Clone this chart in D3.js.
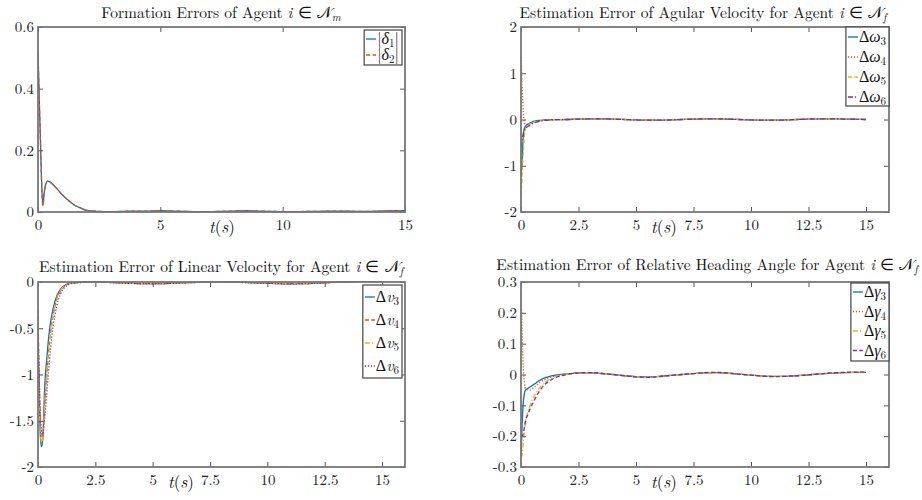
<!DOCTYPE html>
<html>
<head>
<meta charset="utf-8">
<script src="https://cdn.jsdelivr.net/npm/d3@7"></script>
<style>
  html, body { margin: 0; padding: 0; background: #fff; }
</style>
</head>
<body>
<svg id="chart" width="922" height="500"></svg>
<script>
// ---------------- DATA ----------------
const tA = [0,0.05,0.1,0.15,0.2,0.25,0.3,0.4,0.5,0.6,0.75,1,1.25,1.5,1.75,2,2.5,3,3.5,4,4.5,5,5.5,6,6.5,7,7.5,8,8.5,9,9.5,10,10.5,11,11.5,12,12.5,13,13.5,14,14.5,15];
const delta1 = [0.52,0.37,0.23,0.09,0.02,0.06,0.085,0.1,0.097,0.09,0.078,0.055,0.037,0.022,0.013,0.005,0.002,0.001,0.002,0.003,0.003,0.004,0.003,0.002,0.001,0.001,0.002,0.003,0.004,0.003,0.002,0.001,0.001,0.002,0.002,0.003,0.003,0.002,0.002,0.003,0.004,0.004];
const delta2 = [0.52,0.37,0.23,0.09,0.021,0.06,0.085,0.1,0.097,0.09,0.078,0.055,0.037,0.022,0.013,0.005,0.002,0.001,0.002,0.003,0.003,0.004,0.003,0.002,0.001,0.001,0.002,0.003,0.004,0.003,0.002,0.001,0.001,0.002,0.002,0.003,0.003,0.002,0.002,0.003,0.004,0.004];

const tB = [0,0.05,0.1,0.15,0.2,0.3,0.4,0.5,0.6,0.75,1,1.25,1.5,2,2.5,3,3.5,4,4.5,5,5.5,6,6.5,7,7.5,8,8.5,9,9.5,10,10.5,11,11.5,12,12.5,13,13.5,14,14.5,15];

const omega3 = [-1.25,-0.9,-0.35,-0.18,-0.14,-0.1,-0.07,-0.05,-0.035,-0.02,-0.01,-0.005,-0.002,0,0.01,0.015,0.015,0.01,0,-0.01,-0.015,-0.015,-0.01,0,0.01,0.015,0.015,0.01,0,-0.01,-0.015,-0.015,-0.01,0,0.01,0.015,0.015,0.01,0.005,0];
const omega4 = [1.35,0.7,0.15,-0.08,-0.12,-0.12,-0.1,-0.08,-0.06,-0.04,-0.02,-0.01,-0.004,0,0.01,0.015,0.015,0.01,0,-0.01,-0.015,-0.015,-0.01,0,0.01,0.015,0.015,0.01,0,-0.01,-0.015,-0.015,-0.01,0,0.01,0.015,0.015,0.01,0.005,0];
const omega5 = [-1.65,-1.2,-0.7,-0.35,-0.2,-0.14,-0.1,-0.07,-0.05,-0.03,-0.015,-0.007,-0.003,0,0.01,0.015,0.015,0.01,0,-0.01,-0.015,-0.015,-0.01,0,0.01,0.015,0.015,0.01,0,-0.01,-0.015,-0.015,-0.01,0,0.01,0.015,0.015,0.01,0.005,0];
const omega6 = [-0.6,-0.45,-0.3,-0.22,-0.18,-0.15,-0.12,-0.09,-0.07,-0.045,-0.02,-0.01,-0.004,0,0.01,0.015,0.015,0.01,0,-0.01,-0.015,-0.015,-0.01,0,0.01,0.015,0.015,0.01,0,-0.01,-0.015,-0.015,-0.01,0,0.01,0.015,0.015,0.01,0.005,0];

const v3 = [-0.55,-1.2,-1.65,-1.78,-1.72,-1.1,-0.78,-0.52,-0.36,-0.2,-0.07,-0.025,-0.008,-0.002,0,-0.003,-0.008,-0.013,-0.017,-0.018,-0.016,-0.012,-0.007,-0.003,0,0,-0.002,-0.005,-0.009,-0.013,-0.017,-0.019,-0.018,-0.014,-0.008,-0.002,0.003,0.006,0.008,0.008];
const v4 = [-0.3,-1.0,-1.5,-1.72,-1.7,-1.3,-0.95,-0.65,-0.45,-0.25,-0.09,-0.03,-0.01,-0.003,0,-0.003,-0.008,-0.013,-0.017,-0.018,-0.016,-0.012,-0.007,-0.003,0,0,-0.002,-0.005,-0.009,-0.013,-0.017,-0.019,-0.018,-0.014,-0.008,-0.002,0.003,0.006,0.008,0.008];
const v5 = [-0.9,-1.3,-1.6,-1.75,-1.7,-1.28,-0.92,-0.62,-0.43,-0.24,-0.08,-0.028,-0.009,-0.003,0,-0.003,-0.008,-0.013,-0.017,-0.018,-0.016,-0.012,-0.007,-0.003,0,0,-0.002,-0.005,-0.009,-0.013,-0.017,-0.019,-0.018,-0.014,-0.008,-0.002,0.003,0.006,0.008,0.008];
const v6 = [-0.5,-1.0,-1.4,-1.6,-1.65,-1.45,-1.15,-0.85,-0.6,-0.34,-0.12,-0.04,-0.013,-0.004,-0.001,-0.004,-0.009,-0.014,-0.018,-0.019,-0.017,-0.013,-0.008,-0.004,-0.001,0,-0.002,-0.006,-0.01,-0.014,-0.018,-0.02,-0.019,-0.015,-0.009,-0.003,0.002,0.005,0.007,0.008];

const gamma3 = [-0.27,-0.16,-0.09,-0.06,-0.05,-0.045,-0.04,-0.035,-0.03,-0.022,-0.012,-0.006,-0.002,0.002,0.005,0.005,0.003,0,-0.004,-0.007,-0.008,-0.006,-0.003,0,0.003,0.005,0.006,0.004,0.001,-0.002,-0.005,-0.006,-0.006,-0.004,-0.001,0.002,0.004,0.006,0.007,0.007];
const gamma4 = [0.27,0.13,0.02,-0.03,-0.045,-0.05,-0.05,-0.045,-0.04,-0.03,-0.018,-0.009,-0.004,0.002,0.005,0.005,0.003,0,-0.004,-0.007,-0.008,-0.006,-0.003,0,0.003,0.005,0.006,0.004,0.001,-0.002,-0.005,-0.006,-0.006,-0.004,-0.001,0.002,0.004,0.006,0.007,0.007];
const gamma5 = [-0.27,-0.26,-0.22,-0.18,-0.15,-0.12,-0.1,-0.08,-0.065,-0.048,-0.028,-0.015,-0.007,0.001,0.005,0.005,0.003,0,-0.004,-0.007,-0.008,-0.006,-0.003,0,0.003,0.005,0.006,0.004,0.001,-0.002,-0.005,-0.006,-0.006,-0.004,-0.001,0.002,0.004,0.006,0.007,0.007];
const gamma6 = [-0.2,-0.2,-0.19,-0.17,-0.15,-0.13,-0.11,-0.095,-0.08,-0.06,-0.035,-0.02,-0.01,0,0.005,0.006,0.004,0,-0.004,-0.008,-0.009,-0.007,-0.003,0,0.003,0.006,0.007,0.005,0.001,-0.002,-0.005,-0.007,-0.006,-0.004,-0.001,0.002,0.005,0.007,0.008,0.008];

const ticksX15 = [0,5,10,15];
const ticksX16 = [0,2.5,5,7.5,10,12.5,15];
const ticksY1 = [0,0.2,0.4,0.6];
const ticksY2 = [-2,-1,0,1,2];
const ticksY3 = [-2,-1.5,-1,-0.5,0];
const ticksY4 = [-0.3,-0.2,-0.1,0,0.1,0.2,0.3];

// ---------------- STYLE ----------------
const C = ["#0072BD", "#D95319", "#EDB120", "#7E2F8E"];
const DASH = { solid: null, dash: "4,2.5", dot: "1.2,1.8", dashdot: "5,2,1.2,2" };
const SERIF = '"Latin Modern Roman", "Liberation Serif", serif';
const GREEK = '"Liberation Serif", serif';

const svg = d3.select("#chart");

function titleText(g, x, y, parts) {
  const t = g.append("text").attr("x", x).attr("y", y).attr("text-anchor", "middle")
    .style("font-family", SERIF).style("font-size", "15.5px").attr("fill", "#111");
  parts.forEach(p => {
    const ts = t.append("tspan").text(p.s);
    if (p.i) ts.attr("font-style", "italic");
    if (p.sub) ts.style("font-size", "11px").attr("dy", 3);
  });
}

function panel(cfg) {
  const g = svg.append("g");
  const x = d3.scaleLinear().domain(cfg.xdom).range([cfg.x0, cfg.x1]);
  const y = d3.scaleLinear().domain(cfg.ydom).range([cfg.y1, cfg.y0]);

  // lines
  const clipId = "clip" + cfg.id;
  svg.append("clipPath").attr("id", clipId).append("rect")
    .attr("x", cfg.x0).attr("y", cfg.y0 - 1).attr("width", cfg.x1 - cfg.x0).attr("height", cfg.y1 - cfg.y0 + 2);
  const line = d3.line().x(d => x(d[0])).y(d => y(d[1])).curve(d3.curveMonotoneX);
  cfg.series.forEach(s => {
    g.append("path")
      .attr("clip-path", `url(#${clipId})`)
      .attr("d", line(cfg.t.map((tv, i) => [tv, s.values[i]])))
      .attr("fill", "none").attr("stroke", s.color).attr("stroke-width", 1.3)
      .attr("stroke-dasharray", DASH[s.dash]);
  });

  // axes
  const fmt = d => String(d);
  const ax = g.append("g").attr("transform", `translate(0,${cfg.y1})`)
    .call(d3.axisBottom(x).tickValues(cfg.xticks).tickFormat(fmt).tickSizeInner(-5).tickSizeOuter(0).tickPadding(7));
  const axTop = g.append("g").attr("transform", `translate(0,${cfg.y0})`)
    .call(d3.axisTop(x).tickValues(cfg.xticks).tickFormat("").tickSizeInner(-5).tickSizeOuter(0));
  const ay = g.append("g").attr("transform", `translate(${cfg.x0},0)`)
    .call(d3.axisLeft(y).tickValues(cfg.yticks).tickFormat(fmt).tickSizeInner(-5).tickSizeOuter(0).tickPadding(4));
  const ayR = g.append("g").attr("transform", `translate(${cfg.x1},0)`)
    .call(d3.axisRight(y).tickValues(cfg.yticks).tickFormat("").tickSizeInner(-5).tickSizeOuter(0));
  [ax, axTop, ay, ayR].forEach(a => {
    a.attr("font-family", null).attr("font-size", null);
    a.select(".domain").remove();
    a.selectAll(".tick line").attr("stroke", "#555").attr("stroke-width", 1);
    a.selectAll("text").style("font-family", SERIF).style("font-size", "15px").attr("fill", "#222");
  });
  axTop.selectAll("text").remove();
  ayR.selectAll("text").remove();

  // frame
  g.append("rect").attr("x", cfg.x0).attr("y", cfg.y0)
    .attr("width", cfg.x1 - cfg.x0).attr("height", cfg.y1 - cfg.y0)
    .attr("fill", "none").attr("stroke", "#777").attr("stroke-width", 1.8);

  // x label t(s)
  const xl = g.append("text").attr("x", cfg.xlabelX).attr("y", cfg.y1 + 21)
    .attr("text-anchor", "middle").style("font-family", SERIF).style("font-size", "17px").attr("fill", "#111");
  xl.append("tspan").attr("font-style", "italic").text("t");
  xl.append("tspan").text("(");
  xl.append("tspan").attr("font-style", "italic").text("s");
  xl.append("tspan").text(")");

  // title
  titleText(g, cfg.titleX, cfg.titleY, cfg.title);

  // legend
  const L = cfg.legend;
  const lg = g.append("g");
  const box = lg.append("rect").attr("y", L.y).attr("height", L.h)
    .attr("fill", "#fff").attr("stroke", "#444").attr("stroke-width", 1.2);
  const texts = [];
  const samples = [];
  cfg.series.forEach((s, i) => {
    const yy = L.y + L.first + i * L.step;
    samples.push(lg.append("line").attr("y1", yy).attr("y2", yy)
      .attr("stroke", s.color).attr("stroke-width", 1.3).attr("stroke-dasharray", DASH[s.dash]));
    const tx = lg.append("text").attr("y", yy + 5)
      .style("font-family", SERIF).style("font-size", "16px").attr("fill", "#111");
    if (s.abs) {
      tx.append("tspan").text("|");
      tx.append("tspan").attr("font-style", "italic").style("font-family", GREEK).text(s.sym);
      tx.append("tspan").style("font-size", "11px").attr("dy", 3).text(s.sub);
      tx.append("tspan").attr("dy", -3).text("|");
    } else {
      tx.append("tspan").style("font-family", GREEK).text("Δ");
      tx.append("tspan").attr("font-style", "italic").style("font-family", s.greek ? GREEK : SERIF).text(s.sym);
      tx.append("tspan").style("font-size", "11px").attr("dy", 3).text(s.sub);
    }
    texts.push(tx);
  });
  const maxW = d3.max(texts, t => t.node().getComputedTextLength());
  const w = 13 + maxW + 3;
  const bx = L.right - w;
  box.attr("x", bx).attr("width", w);
  samples.forEach(l => l.attr("x1", bx + 2).attr("x2", bx + 12));
  texts.forEach(t => t.attr("x", bx + 13));
}

const agentTitle = (pre, sub) => [
  { s: pre + " Agent " }, { s: "i", i: true }, { s: " ∈ " }, { s: "𝒩" }, { s: sub, sub: true, i: true }
];

panel({
  id: 1, x0: 38, x1: 405, y0: 27, y1: 212, xdom: [0, 15], ydom: [0, 0.6],
  xticks: ticksX15, yticks: ticksY1, t: tA, xlabelX: 222,
  titleX: 221, titleY: 18, title: agentTitle("Formation Errors of", "m"),
  series: [
    { values: delta1, color: C[0], dash: "solid", abs: true, sym: "δ", sub: "1" },
    { values: delta2, color: C[1], dash: "dash", abs: true, sym: "δ", sub: "2" }
  ],
  legend: { right: 402, y: 30, h: 35, first: 9, step: 16 }
});

panel({
  id: 2, x0: 521, x1: 889, y0: 27, y1: 212, xdom: [0, 16], ydom: [-2, 2],
  xticks: ticksX16, yticks: ticksY2, t: tB, xlabelX: 664,
  titleX: 703, titleY: 18, title: agentTitle("Estimation Error of Agular Velocity for", "f"),
  series: [
    { values: omega3, color: C[0], dash: "solid", sym: "ω", greek: true, sub: "3" },
    { values: omega4, color: C[1], dash: "dot", sym: "ω", greek: true, sub: "4" },
    { values: omega5, color: C[2], dash: "dash", sym: "ω", greek: true, sub: "5" },
    { values: omega6, color: C[3], dash: "dashdot", sym: "ω", greek: true, sub: "6" }
  ],
  legend: { right: 889, y: 27, h: 79, first: 10, step: 20 }
});

panel({
  id: 3, x0: 38, x1: 405, y0: 282, y1: 467, xdom: [0, 16], ydom: [-2, 0],
  xticks: ticksX16, yticks: ticksY3, t: tB, xlabelX: 181,
  titleX: 221, titleY: 272, title: agentTitle("Estimation Error of Linear Velocity for", "f"),
  series: [
    { values: v3, color: C[0], dash: "solid", sym: "v", sub: "3" },
    { values: v4, color: C[1], dash: "dash", sym: "v", sub: "4" },
    { values: v5, color: C[2], dash: "dashdot", sym: "v", sub: "5" },
    { values: v6, color: C[3], dash: "dot", sym: "v", sub: "6" }
  ],
  legend: { right: 402, y: 285, h: 93, first: 12, step: 23 }
});

panel({
  id: 4, x0: 521, x1: 889, y0: 282, y1: 467, xdom: [0, 16], ydom: [-0.3, 0.3],
  xticks: ticksX16, yticks: ticksY4, t: tB, xlabelX: 664,
  titleX: 707, titleY: 270, title: agentTitle("Estimation Error of Relative Heading Angle for", "f"),
  series: [
    { values: gamma3, color: C[0], dash: "solid", sym: "γ", greek: true, sub: "3" },
    { values: gamma4, color: C[1], dash: "dot", sym: "γ", greek: true, sub: "4" },
    { values: gamma5, color: C[2], dash: "dashdot", sym: "γ", greek: true, sub: "5" },
    { values: gamma6, color: C[3], dash: "dash", sym: "γ", greek: true, sub: "6" }
  ],
  legend: { right: 889, y: 283, h: 78, first: 9, step: 19.5 }
});
</script>
</body>
</html>
